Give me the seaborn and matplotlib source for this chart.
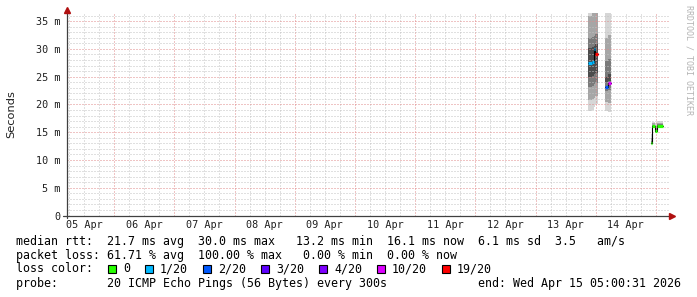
import numpy as np
import pandas as pd
import matplotlib
matplotlib.use("Agg")
import matplotlib.pyplot as plt
import matplotlib.dates as mdates
from matplotlib.patches import Rectangle
import seaborn as sns

# ---------------- data ----------------
graph_start = "2026-04-05 05:00:31"
graph_end = "2026-04-15 05:00:31"

step_start = ["2026-04-13 21:05", "2026-04-13 22:30", "2026-04-13 23:10", "2026-04-13 23:50",
              "2026-04-14 03:50", "2026-04-14 05:00",
              "2026-04-14 21:50", "2026-04-14 22:35", "2026-04-14 23:30", "2026-04-15 00:20"]
step_end = ["2026-04-13 22:30", "2026-04-13 23:10", "2026-04-13 23:50", "2026-04-14 01:05",
            "2026-04-14 05:00", "2026-04-14 05:55",
            "2026-04-14 22:35", "2026-04-14 23:30", "2026-04-15 00:20", "2026-04-15 02:45"]
median_ms = [27.5, 27.7, 29.9, 29.1, 23.1, 23.8, 13.1, 16.1, 15.3, 16.2]
loss_of_20 = [1, 1, 1, 19, 2, 10, 0, 0, 0, 0]
smoke_min = [18.9, 19.0, 19.6, 20.1, 18.9, 18.6, 12.9, 15.7, 14.9, 15.8]
smoke_p10 = [20.8, 21.0, 21.2, 21.6, 20.4, 20.2, 13.0, 15.8, 15.0, 15.9]
smoke_p25 = [23.2, 23.4, 23.6, 23.8, 22.4, 22.6, 13.1, 16.0, 15.2, 16.1]
smoke_p40 = [25.0, 25.2, 25.4, 25.6, 24.0, 24.2, 13.2, 16.1, 15.3, 16.2]
smoke_p60 = [30.2, 30.4, 30.6, 30.8, 25.0, 25.4, 13.3, 16.2, 15.5, 16.3]
smoke_p75 = [32.0, 32.2, 32.4, 32.6, 27.8, 28.2, 13.5, 16.3, 15.7, 16.4]
smoke_p90 = [36.0, 36.5, 37.0, 37.5, 32.0, 32.5, 14.0, 16.6, 16.2, 16.7]
smoke_max = [44.0, 44.0, 44.0, 44.0, 42.0, 42.0, 14.7, 16.9, 16.7, 17.0]

loss_levels = [0, 1, 2, 3, 4, 10, 19]
loss_labels = ["0", "1/20", "2/20", "3/20", "4/20", "10/20", "19/20"]
loss_colors = ["#26ff00", "#00b8ff", "#0059ff", "#5e00ff", "#7e00ff", "#dd00ff", "#ff0000"]

y_ticks_ms = [0, 5, 10, 15, 20, 25, 30, 35]
y_tick_labels = ["0", "5 m", "10 m", "15 m", "20 m", "25 m", "30 m", "35 m"]

row_rtt = "median rtt:  21.7 ms avg  30.0 ms max   13.2 ms min  16.1 ms now  6.1 ms sd  3.5   am/s"
row_loss = "packet loss: 61.71 % avg  100.00 % max   0.00 % min  0.00 % now"
row_color = "loss color:"
row_probe = "probe:       20 ICMP Echo Pings (56 Bytes) every 300s             end: Wed Apr 15 05:00:31 2026"
y_label = "Seconds"
watermark = "RRDTOOL / TOBI OETIKER"

# ---------------- styling ----------------
W, H = 697, 297
sns.set_theme(style="white")
plt.rcParams["font.family"] = ["DejaVu Sans"]
MONO = ["DejaVu Sans Mono", "DejaVu Sans"]
GRID_MINOR = "#c2c2c2"
GRID_MAJOR = "#e08a8a"
AXIS_COL = "#404040"
ARROW_COL = "#b01010"

fig = plt.figure(figsize=(W / 100, H / 100), dpi=100)
fig.patch.set_facecolor("white")
L, R, T, B = 66.5, 668.5, 13.0, 215.5
ax = fig.add_axes([L / W, 1 - B / H, (R - L) / W, (B - T) / H])
ax.set_facecolor("white")
for s in ax.spines.values():
    s.set_visible(False)

x0 = mdates.date2num(pd.Timestamp(graph_start))
x1 = mdates.date2num(pd.Timestamp(graph_end))
ax.set_xlim(x0, x1)
ax.set_ylim(0, 36.45)

# grid (drawn over the smoke, below the median line)
for t in pd.date_range("2026-04-05 06:00", "2026-04-15 00:00", freq="6h"):
    major = t.hour == 0
    ax.axvline(mdates.date2num(t), color=GRID_MAJOR if major else GRID_MINOR,
               lw=0.72, dashes=(1, 2), zorder=3)
for v in range(1, 37):
    ax.axhline(v, color=GRID_MAJOR if v % 5 == 0 else GRID_MINOR,
               lw=0.72, dashes=(1, 2), zorder=3)

# ---------------- marks ----------------
s_num = mdates.date2num(pd.to_datetime(step_start))
e_num = mdates.date2num(pd.to_datetime(step_end))

# split into contiguous blocks
blocks, cur = [], [0]
for i in range(1, len(step_start)):
    if step_start[i] == step_end[i - 1]:
        cur.append(i)
    else:
        blocks.append(cur)
        cur = [i]
blocks.append(cur)


def stepped(idx, vals):
    xs, ys = [], []
    for i in idx:
        xs += [s_num[i], e_num[i]]
        ys += [vals[i], vals[i]]
    return np.array(xs), np.array(ys)


smoke_bands = [(smoke_min, smoke_max, "#d6d6d6"),
               (smoke_p10, smoke_p90, "#a6a6a6"),
               (smoke_p25, smoke_p75, "#7a7a7a"),
               (smoke_p40, smoke_p60, "#4c4c4c")]

for blk in blocks:
    for lo, hi, col in smoke_bands:
        xs, ylo = stepped(blk, lo)
        _, yhi = stepped(blk, hi)
        ax.fill_between(xs, ylo, yhi, color=col, lw=0, zorder=1)
    xs, ym = stepped(blk, median_ms)
    sns.lineplot(x=xs, y=ym, sort=False, estimator=None, color="#000000",
                 lw=0.8, ax=ax, zorder=4)

seg_colors = [loss_colors[loss_levels.index(l)] for l in loss_of_20]
ax.hlines(median_ms, s_num, e_num, colors=seg_colors, lw=2.3, zorder=5)

# ---------------- axes, ticks ----------------
noon = pd.date_range("2026-04-05 12:00", "2026-04-14 12:00", freq="1D")
ax.set_xticks(mdates.date2num(noon))
ax.set_xticklabels([d.strftime("%d %b") for d in noon], family=MONO, fontsize=7.3, color="#202020")
ax.set_yticks(y_ticks_ms)
ax.set_yticklabels(y_tick_labels, family=MONO, fontsize=7.3, color="#202020")
ax.tick_params(axis="x", length=0, pad=3)
ax.tick_params(axis="y", length=0, pad=4.6)
ax.set_xlabel("")
ax.set_ylabel("")

# axis lines with arrows
ax.plot([0, 0], [-0.013, 1.005], transform=ax.transAxes, color=AXIS_COL, lw=0.9,
        clip_on=False, zorder=6)
ax.plot([-0.006, 1.0], [0, 0], transform=ax.transAxes, color=AXIS_COL, lw=0.9,
        clip_on=False, zorder=6)
ax.plot([0], [1.013], transform=ax.transAxes, marker="^", ms=4.6, color=ARROW_COL,
        mec=ARROW_COL, clip_on=False, zorder=7)
ax.plot([1.006], [0], transform=ax.transAxes, marker=">", ms=4.6, color=ARROW_COL,
        mec=ARROW_COL, clip_on=False, zorder=7)

# ---------------- texts ----------------
def ftext(x, y, s, **kw):
    fig.text(x / W, 1 - y / H, s, **kw)


ftext(11, 114, y_label, rotation=90, ha="center", va="center", fontsize=8.2, color="#202020")
ftext(688.5, 5, watermark, rotation=270, ha="center", va="top", family=MONO,
      fontsize=6.0, color="#b4b4b4")

LEG = dict(family=MONO, fontsize=8.37, color="#000000", va="baseline", ha="left")
ftext(16, 245, row_rtt, **LEG)
ftext(16, 259, row_loss, **LEG)
ftext(16, 272.5, row_color, **LEG)
ftext(16, 286.5, row_probe, **LEG)

char_w = 7.0
xpos = 108.0
for lab, col in zip(loss_labels, loss_colors):
    fig.patches.append(Rectangle((xpos / W, 1 - 273.0 / H), 7.6 / W, 8.4 / H,
                                 transform=fig.transFigure, facecolor=col,
                                 edgecolor="#000000", lw=0.8))
    ftext(xpos + 15, 272.5, lab, **LEG)
    xpos += 15 + len(lab) * char_w + 15

fig.savefig("out.png", dpi=100, facecolor="white")
